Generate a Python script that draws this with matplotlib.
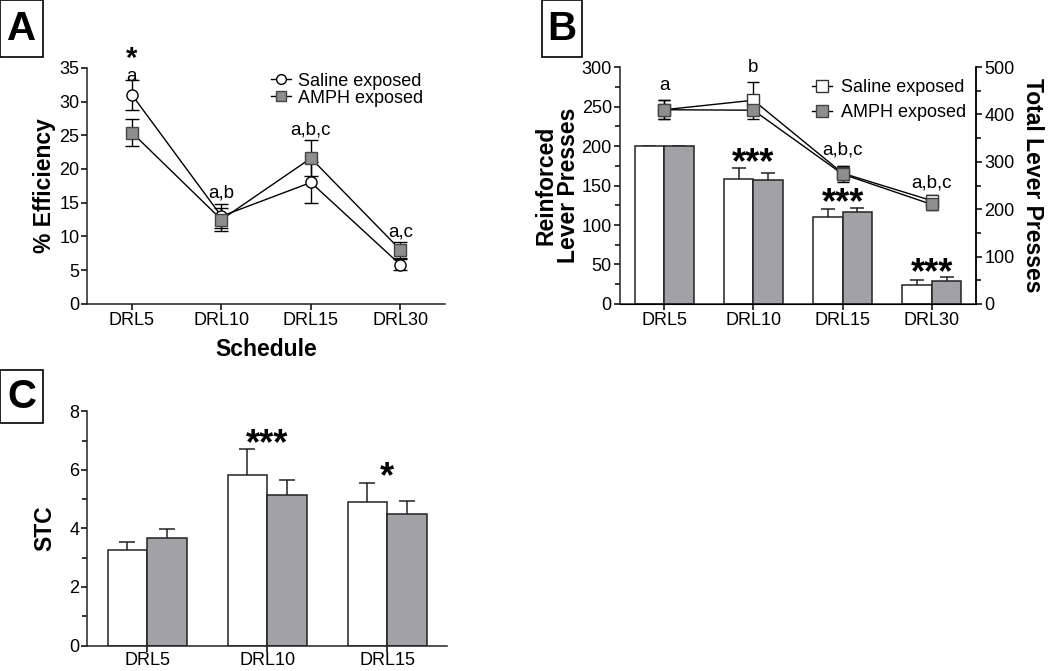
import numpy as np
import matplotlib
matplotlib.use('Agg')
import matplotlib.pyplot as plt
from matplotlib.ticker import MultipleLocator
from matplotlib.lines import Line2D

plt.rcParams['font.family'] = ['Liberation Sans', 'DejaVu Sans']
plt.rcParams['font.size'] = 13
plt.rcParams['mathtext.fontset'] = 'custom'
plt.rcParams['mathtext.bf'] = 'Liberation Sans:bold'

GREY = '#a2a2a6'
MGREY = '#8e8e8e'

# panel A - % efficiency
schedA = ['DRL5', 'DRL10', 'DRL15', 'DRL30']
eff_sal = [31.0, 13.0, 18.0, 5.8]
eff_sal_err = [2.2, 1.8, 3.0, 0.8]
eff_amph = [25.4, 12.5, 21.6, 8.0]
eff_amph_err = [2.0, 1.7, 2.7, 1.2]

# panel B - reinforced (bars) and total (lines) lever presses
schedB = ['DRL5', 'DRL10', 'DRL15', 'DRL30']
reinf_sal = [200, 158, 110, 24]
reinf_sal_err = [0, 14, 10, 6]
reinf_amph = [200, 157, 117, 29]
reinf_amph_err = [0, 9, 4, 5]
total_sal = [410, 430, 276, 218]
total_sal_err = [20, 39, 15, 12]
total_amph = [410, 409, 274, 210]
total_amph_err = [20, 10, 17, 12]

# panel C - STC
schedC = ['DRL5', 'DRL10', 'DRL15']
stc_sal = [3.25, 5.82, 4.9]
stc_sal_err = [0.28, 0.9, 0.65]
stc_amph = [3.68, 5.15, 4.5]
stc_amph_err = [0.3, 0.52, 0.45]

fig = plt.figure(figsize=(10.5, 6.71), dpi=100)


def style(ax, right=False):
    ax.spines['top'].set_visible(False)
    if not right:
        ax.spines['right'].set_visible(False)
    for s in ax.spines.values():
        s.set_linewidth(1.1)
        s.set_color('#222222')
    ax.tick_params(direction='out', length=4.5, width=1.1, labelsize=13, pad=1)
    ax.tick_params(which='minor', direction='out', length=3.5, width=1.1)


def bars(ax, xs, vals, errs, color, capsize):
    ax.bar(xs, vals, w, color=color, edgecolor='#222222', lw=1.1, zorder=2)
    _, caps, _ = ax.errorbar(xs, vals, yerr=[np.zeros(len(vals)), errs], fmt='none',
                             ecolor='#222222', elinewidth=1.1, capsize=capsize, capthick=1.1, zorder=1)
    caps[0].set_visible(False)


def panel_letter(x0, y0, x1, y1, letter):
    # box coords in pixels from top-left
    W, H = 1050, 671
    fig.patches.append(plt.Rectangle((x0 / W, 1 - y1 / H), (x1 - x0) / W, (y1 - y0) / H,
                                     transform=fig.transFigure, fill=False, lw=1.2, ec='black'))
    fig.text((x0 + x1) / 2 / W, 1 - (y0 + y1) / 2 / H, letter, ha='center', va='center',
             fontsize=29, fontweight='bold')


w = 0.33

# ---------- A ----------
axA = fig.add_axes([0.083, 0.547, 0.341, 0.352])
x = np.arange(len(schedA))
axA.errorbar(x, eff_sal, yerr=eff_sal_err, color='black', lw=1, marker='o', ms=8,
             mfc='white', mec='black', mew=1, capsize=5, elinewidth=1, zorder=3)
axA.errorbar(x, eff_amph, yerr=eff_amph_err, color='black', lw=1, marker='s', ms=8.5,
             mfc=MGREY, mec='#444444', mew=1, capsize=5, elinewidth=1, zorder=3)
axA.set_xlim(-0.5, 3.5)
axA.set_ylim(0, 35)
axA.yaxis.set_major_locator(MultipleLocator(5))
axA.set_xticks(x)
axA.set_xticklabels(schedA)
axA.set_ylabel('% Efficiency', fontsize=16.5, fontweight='bold')
axA.yaxis.set_label_coords(-0.088, 0.5)
axA.set_xlabel('Schedule', fontsize=16.5, fontweight='bold', labelpad=7)
style(axA)
hA = [Line2D([], [], color='black', lw=1, marker='o', ms=7, mfc='white', mec='black'),
      Line2D([], [], color='black', lw=1, marker='s', ms=7.5, mfc=MGREY, mec='#444444')]
axA.legend(hA, ['Saline exposed', 'AMPH exposed'], loc='upper left', bbox_to_anchor=(0.484, 1.025),
           frameon=False, fontsize=13, handlelength=1.1, handletextpad=0.4, labelspacing=0.0,
           borderpad=0.1)
axA.text(0, 36.4, r'$\mathbf{*}$', ha='center', va='center', fontsize=21, clip_on=False)
axA.text(0, 33.7, 'a', ha='center', va='center', fontsize=13.5)
axA.text(1, 16.4, 'a,b', ha='center', va='center', fontsize=13.5)
axA.text(2, 25.8, 'a,b,c', ha='center', va='center', fontsize=13.5)
axA.text(3, 10.6, 'a,c', ha='center', va='center', fontsize=13.5)

# ---------- B ----------
axB = fig.add_axes([0.590, 0.547, 0.340, 0.353])
xb = np.arange(len(schedB))
bars(axB, xb - w / 2, reinf_sal, reinf_sal_err, 'white', 5)
bars(axB, xb + w / 2, reinf_amph, reinf_amph_err, GREY, 5)
axB.set_xlim(-0.5, 3.5)
axB.set_ylim(0, 300)
axB.yaxis.set_major_locator(MultipleLocator(50))
axB.yaxis.set_minor_locator(MultipleLocator(25))
axB.set_xticks(xb)
axB.set_xticklabels(schedB)
axB.set_ylabel('Reinforced\nLever Presses', fontsize=16.5, fontweight='bold', linespacing=1.0)
axB.yaxis.set_label_coords(-0.11, 0.5)
style(axB, right=True)

axB2 = axB.twinx()
axB2.errorbar(xb, total_sal, yerr=total_sal_err, color='black', lw=1, marker='s', ms=8.5,
              mfc='white', mec='#333333', mew=1, capsize=4, elinewidth=1)
axB2.errorbar(xb, total_amph, yerr=total_amph_err, color='black', lw=1, marker='s', ms=8.5,
              mfc=MGREY, mec='#444444', mew=1, capsize=4, elinewidth=1)
axB2.set_ylim(0, 500)
axB2.yaxis.set_major_locator(MultipleLocator(100))
axB2.yaxis.set_minor_locator(MultipleLocator(50))
axB2.spines['top'].set_visible(False)
axB2.spines['left'].set_visible(False)
axB2.spines['right'].set_linewidth(1.1)
axB2.tick_params(direction='out', length=4.5, width=1.1, labelsize=13, pad=1)
axB2.tick_params(which='minor', direction='out', length=3.5, width=1.1)
axB2.set_ylabel('Total Lever Presses', fontsize=16.5, fontweight='bold', rotation=270, labelpad=21)
hB = [Line2D([], [], color='black', lw=1, marker='s', ms=8, mfc='white', mec='#333333'),
      Line2D([], [], color='black', lw=1, marker='s', ms=8, mfc=MGREY, mec='#444444')]
axB2.legend(hB, ['Saline exposed', 'AMPH exposed'], loc='upper left', bbox_to_anchor=(0.51, 0.995),
            frameon=False, fontsize=13, handlelength=1.1, handletextpad=0.5, labelspacing=0.45,
            borderpad=0.1)

axB.text(0, 277, 'a', ha='center', va='center', fontsize=13.5)
axB.text(1, 300, 'b', ha='center', va='center', fontsize=13.5, clip_on=False)
axB.text(2, 195, 'a,b,c', ha='center', va='center', fontsize=13.5)
axB.text(3, 153, 'a,b,c', ha='center', va='center', fontsize=13.5)
axB.text(1, 178, '***', ha='center', va='center', fontsize=26, fontweight='bold')
axB.text(2, 127, '***', ha='center', va='center', fontsize=26, fontweight='bold')
axB.text(3, 38, '***', ha='center', va='center', fontsize=26, fontweight='bold')

# ---------- C ----------
axC = fig.add_axes([0.083, 0.038, 0.343, 0.349])
xc = np.arange(len(schedC))
bars(axC, xc - w / 2, stc_sal, stc_sal_err, 'white', 6)
bars(axC, xc + w / 2, stc_amph, stc_amph_err, GREY, 6)
axC.set_xlim(-0.5, 2.5)
axC.set_ylim(0, 8)
axC.yaxis.set_major_locator(MultipleLocator(2))
axC.yaxis.set_minor_locator(MultipleLocator(1))
axC.set_xticks(xc)
axC.set_xticklabels(schedC)
axC.set_ylabel('STC', fontsize=16.5, fontweight='bold')
axC.yaxis.set_label_coords(-0.085, 0.5)
style(axC)
axC.tick_params(axis='x', pad=0)
axC.text(1, 6.85, '***', ha='center', va='center', fontsize=26, fontweight='bold')
axC.text(2, 5.78, r'$\mathbf{*}$', ha='center', va='center', fontsize=26)

panel_letter(0, 0, 43, 57, 'A')
panel_letter(542, 0, 582, 57, 'B')
panel_letter(0, 370, 43, 423, 'C')

fig.savefig('out.png', dpi=100)
